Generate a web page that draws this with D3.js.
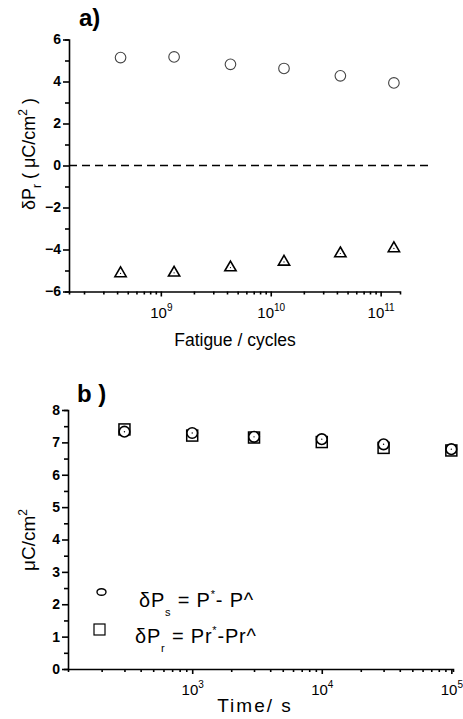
<!DOCTYPE html>
<html lang="en">
<head>
<meta charset="UTF-8" />
<title>Fatigue and retention</title>
<script src="https://d3js.org/d3.v7.min.js"></script>
<style>
    body { margin: 0; background: #fff; }
    svg { display: block; font-family: "Liberation Sans", Arial, sans-serif; }
    .domain, .tick line { stroke: #000; stroke-width: 1.6px; }
    .tick text { font-size: 14px; fill: #000; font-weight: bold; }
    .tick text.xlab { font-weight: normal; }
</style>
</head>
<body>
<svg width="463" height="719"></svg>
<script>
    // panel a: fatigue
    const fatigueCycles = [4.3e8, 1.32e9, 4.3e9, 1.32e10, 4.3e10, 1.32e11];
    const dPrPlus = [5.14, 5.17, 4.82, 4.62, 4.27, 3.93];
    const dPrMinus = [-5.14, -5.11, -4.86, -4.59, -4.19, -3.95];
    const fatigueMajor = [1e9, 1e10, 1e11];
    const fatigueExp = ["9", "10", "11"];

    // panel b: retention
    const timeS = [300, 1000, 3000, 10000, 30000, 100000];
    const dPs = [7.33, 7.29, 7.17, 7.10, 6.94, 6.79];
    const dPr = [7.40, 7.21, 7.15, 7.01, 6.83, 6.75];
    const timeMajor = [1e3, 1e4, 1e5];
    const timeExp = ["3", "4", "5"];

    const svg = d3.select("svg");

    function minorTicks(lo, hi) {
        const out = [];
        for (let e = Math.floor(Math.log10(lo)); e <= Math.ceil(Math.log10(hi)); e++) {
            for (let m = 2; m <= 9; m++) {
                const v = m * Math.pow(10, e);
                if (v >= lo && v <= hi) out.push(v);
            }
        }
        return out;
    }

    function drawX(g, x, y0, majors, exps) {
        const [lo, hi] = x.domain();
        g.append("g").attr("transform", `translate(0,${y0})`)
            .call(d3.axisBottom(x).tickValues(minorTicks(lo, hi)).tickSize(3).tickFormat(""));
        const maj = g.append("g").attr("transform", `translate(0,${y0})`)
            .call(d3.axisBottom(x).tickValues(majors).tickSize(5).tickFormat(""));
        maj.select(".domain").remove();
        maj.selectAll(".tick").each(function (d, i) {
            const t = d3.select(this).append("text").attr("class", "xlab")
                .attr("y", 26).attr("text-anchor", "middle")
                .style("font-size", "15px").attr("fill", "#000");
            t.append("tspan").text("10");
            t.append("tspan").attr("dy", -7).style("font-size", "10px").text(exps[i]);
        });
    }

    function drawY(g, y, x0, majors, minors) {
        g.append("g").attr("transform", `translate(${x0},0)`)
            .call(d3.axisLeft(y).tickValues(minors).tickSize(4).tickFormat(""));
        const ax = g.append("g").attr("transform", `translate(${x0},0)`)
            .call(d3.axisLeft(y).tickValues(majors).tickSize(6).tickPadding(2).tickFormat(d3.format("d")));
        ax.select(".domain").remove();
    }

    // ---------- panel a ----------
    const ga = svg.append("g");
    const xa = d3.scaleLog().domain([1.46e8, 1.5e11]).range([69, 400]);
    const ya = d3.scaleLinear().domain([-6, 6]).range([291.5, 39.5]);

    drawY(ga, ya, 69, d3.range(-6, 7, 2), d3.range(-5, 6, 2));
    drawX(ga, xa, 291.5, fatigueMajor, fatigueExp);

    ga.append("line")
        .attr("x1", 69).attr("x2", 428)
        .attr("y1", ya(0)).attr("y2", ya(0))
        .attr("stroke", "#000").attr("stroke-width", 1.6)
        .attr("stroke-dasharray", "8 5");

    ga.selectAll(".pa").data(fatigueCycles).join("circle")
        .attr("cx", d => xa(d)).attr("cy", (d, i) => ya(dPrPlus[i]))
        .attr("r", 5.3).attr("fill", "none").attr("stroke", "#444").attr("stroke-width", 1.1);

    const tri = d3.symbol().type(d3.symbolTriangle).size(55);
    const tg = ga.selectAll(".tr").data(fatigueCycles).join("g")
        .attr("transform", (d, i) => `translate(${xa(d)},${ya(dPrMinus[i])})`);
    tg.append("path").attr("d", tri).attr("fill", "none").attr("stroke", "#000").attr("stroke-width", 1.6);
    tg.append("circle").attr("r", 0.6).attr("fill", "#000");

    ga.append("text").attr("x", 79).attr("y", 26)
        .style("font-size", "24px").style("font-weight", "bold").text("a)");

    const yla = ga.append("text")
        .attr("transform", "translate(35,154) rotate(-90)")
        .attr("text-anchor", "middle").style("font-size", "18px");
    yla.append("tspan").text("δP");
    yla.append("tspan").attr("dy", 6).style("font-size", "12px").text("r");
    yla.append("tspan").attr("dy", -6).text(" ( μC/cm");
    yla.append("tspan").attr("dy", -8).style("font-size", "12px").text("2");
    yla.append("tspan").attr("dy", 8).text(" )");

    ga.append("text").attr("x", 235).attr("y", 346).attr("text-anchor", "middle")
        .style("font-size", "17.5px").text("Fatigue / cycles");

    // ---------- panel b ----------
    const gb = svg.append("g");
    const xb = d3.scaleLog().domain([110, 1.03e5]).range([68, 453]);
    const yb = d3.scaleLinear().domain([0, 8]).range([669, 410]);

    drawY(gb, yb, 68, d3.range(0, 9, 1), d3.range(0.5, 8, 1));
    drawX(gb, xb, 669, timeMajor, timeExp);

    gb.selectAll(".sq").data(timeS).join("rect")
        .attr("x", d => xb(d) - 5.5).attr("y", (d, i) => yb(dPr[i]) - 5.5)
        .attr("width", 11).attr("height", 11)
        .attr("fill", "#fff").attr("stroke", "#000").attr("stroke-width", 1.5);

    const cg = gb.selectAll(".ci").data(timeS).join("g")
        .attr("transform", (d, i) => `translate(${xb(d)},${yb(dPs[i])})`);
    cg.append("circle").attr("r", 5.3).attr("fill", "#fff").attr("stroke", "#000").attr("stroke-width", 1.6);
    cg.append("circle").attr("r", 0.7).attr("fill", "#000");

    // legend
    gb.append("ellipse").attr("cx", 101.5).attr("cy", 592).attr("rx", 4.5).attr("ry", 3.3)
        .attr("fill", "none").attr("stroke", "#000").attr("stroke-width", 1.4);
    gb.append("rect").attr("x", 94).attr("y", 624).attr("width", 11).attr("height", 11)
        .attr("fill", "none").attr("stroke", "#000").attr("stroke-width", 1.2);

    const l1 = gb.append("text").attr("x", 139).attr("y", 607)
        .style("font-size", "20px").style("letter-spacing", "0.8px");
    l1.append("tspan").text("δP");
    l1.append("tspan").attr("dy", 9).style("font-size", "11px").text("s");
    l1.append("tspan").attr("dy", -9).text(" = P");
    l1.append("tspan").attr("dy", -9).style("font-size", "11px").text("*");
    l1.append("tspan").attr("dy", 9).text("- P^");

    const l2 = gb.append("text").attr("x", 135).attr("y", 643)
        .style("font-size", "20px").style("letter-spacing", "0.8px");
    l2.append("tspan").text("δP");
    l2.append("tspan").attr("dy", 9).style("font-size", "11px").text("r");
    l2.append("tspan").attr("dy", -9).text(" = Pr");
    l2.append("tspan").attr("dy", -9).style("font-size", "11px").text("*");
    l2.append("tspan").attr("dy", 9).text("-Pr^");

    gb.append("text").attr("x", 77).attr("y", 402)
        .style("font-size", "24px").style("font-weight", "bold").text("b )");

    const ylb = gb.append("text")
        .attr("transform", "translate(35,540) rotate(-90)")
        .attr("text-anchor", "middle").style("font-size", "19px");
    ylb.append("tspan").text("μC/cm");
    ylb.append("tspan").attr("dy", -8).style("font-size", "12px").text("2");

    gb.append("text").attr("x", 255).attr("y", 712).attr("text-anchor", "middle")
        .style("font-size", "19px").style("letter-spacing", "2px").text("Time/ s");
</script>
</body>
</html>
